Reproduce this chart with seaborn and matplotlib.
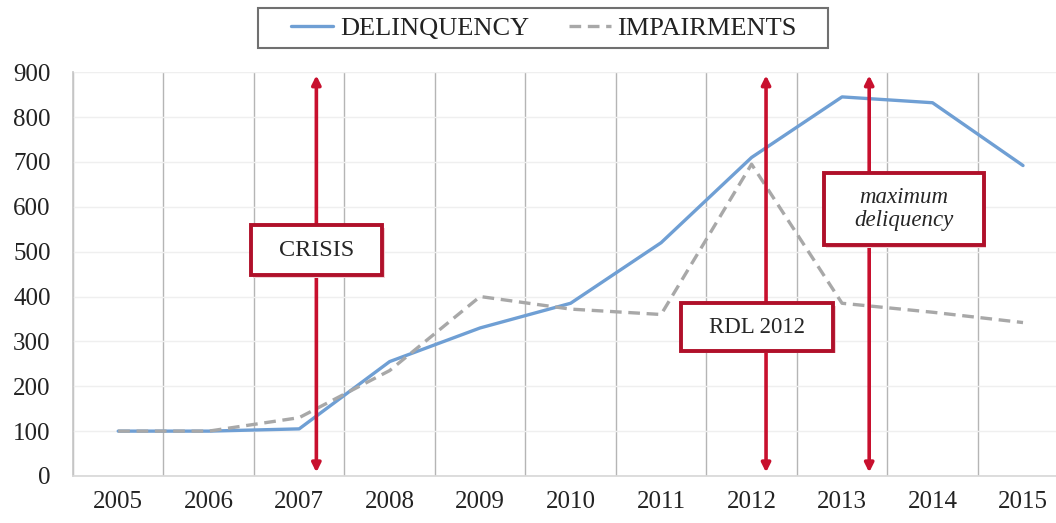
import matplotlib
matplotlib.use("Agg")
import matplotlib.pyplot as plt
from matplotlib.patches import Rectangle
from matplotlib.lines import Line2D
from matplotlib.ticker import MultipleLocator
import seaborn as sns
import pandas as pd

years = [2005, 2006, 2007, 2008, 2009, 2010, 2011, 2012, 2013, 2014, 2015]
delinquency = [100, 100, 105, 255, 330, 385, 520, 710, 845, 832, 692]
impairments = [100, 100, 130, 235, 400, 372, 360, 695, 385, 365, 342]

events = ["CRISIS", "RDL 2012", "maximum\ndeliquency"]
event_x = [2007.19, 2012.16, 2013.30]

sns.set_theme(style="white")
plt.rcParams["font.family"] = ["Liberation Serif", "DejaVu Serif"]

df = pd.DataFrame({
    "year": years * 2,
    "value": delinquency + impairments,
    "series": ["DELINQUENCY"] * len(years) + ["IMPAIRMENTS"] * len(years),
})

blue = "#6f9fd4"
grey = "#a8a8a8"

fig = plt.figure(figsize=(10.56, 5.23), dpi=100)
ax = fig.add_axes([0.0691, 0.0899, 0.9425, 0.772])

sns.lineplot(data=df, x="year", y="value", hue="series", style="series",
             palette={"DELINQUENCY": blue, "IMPAIRMENTS": grey},
             dashes={"DELINQUENCY": "", "IMPAIRMENTS": (3.5, 2.0)},
             linewidth=2.4, ax=ax, legend=False, zorder=3)

ax.set_xlim(2004.5, 2015.5)
ax.set_ylim(0, 900)
ax.set_xticks(years)
ax.set_xticklabels([str(y) for y in years], fontsize=18, color="#222222")
ax.yaxis.set_major_locator(MultipleLocator(100))
ax.tick_params(axis="y", labelsize=18, colors="#222222", length=0, pad=16)
ax.tick_params(axis="x", length=0, pad=11)
ax.set_xlabel("")
ax.set_ylabel("")

# category boundaries as vertical gridlines
ax.set_xticks([y + 0.5 for y in years[:-1]] + [2004.5], minor=True)
ax.grid(which="minor", axis="x", color="#b5b5b5", linewidth=1.0)
ax.grid(which="major", axis="y", color="#efefef", linewidth=1.0)
ax.grid(which="major", axis="x", visible=False)
ax.tick_params(which="minor", length=0)
for side in ["top", "right"]:
    ax.spines[side].set_visible(False)
ax.spines["left"].set_color("#c8c8c8")
ax.spines["bottom"].set_color("#d8d8d8")

red = "#c8102e"
for x in event_x:
    ax.annotate("", xy=(x, 8), xytext=(x, 893),
                arrowprops=dict(arrowstyle="<|-|>", color=red, lw=2.6,
                                mutation_scale=13, shrinkA=0, shrinkB=0),
                zorder=4)

# label boxes: (center x, center y, width, height, font size, style)
boxes = [
    (2007.19, 503, 1.45, 111, 17.5, "normal"),
    (2012.06, 332, 1.68, 105, 16.5, "normal"),
    (2013.68, 595, 1.77, 160, 16.5, "italic"),
]
for (cx, cy, w, h, fs, st), label in zip(boxes, events):
    ax.add_patch(Rectangle((cx - w / 2 + 0.03, cy - h / 2 - 6), w, h,
                           facecolor="#f2d0d4", edgecolor="none", zorder=5))
    ax.add_patch(Rectangle((cx - w / 2, cy - h / 2), w, h,
                           facecolor="white", edgecolor="#b0102a", linewidth=2.8,
                           zorder=6))
    ax.text(cx, cy, label, ha="center", va="center", fontsize=fs, style=st,
            color="#262626", zorder=7, linespacing=1.15)

# legend with its own frame
W, H = 1056, 523
fig.patches.append(Rectangle((258 / W, 1 - 48 / H), 570 / W, 40 / H,
                             transform=fig.transFigure, facecolor="white",
                             edgecolor="#707070", linewidth=1.5))
handles = [Line2D([], [], color=blue, lw=2.4),
           Line2D([], [], color=grey, lw=2.4, dashes=(3.5, 2.0))]
leg = fig.legend(handles, ["DELINQUENCY", "IMPAIRMENTS"], loc="center",
                 bbox_to_anchor=(544 / W, 1 - 28 / H), ncol=2, fontsize=19,
                 frameon=False, handlelength=1.6, columnspacing=1.5,
                 borderpad=0.2, handletextpad=0.25)
for t in leg.get_texts():
    t.set_color("#222222")

fig.savefig("out.png", dpi=100)
